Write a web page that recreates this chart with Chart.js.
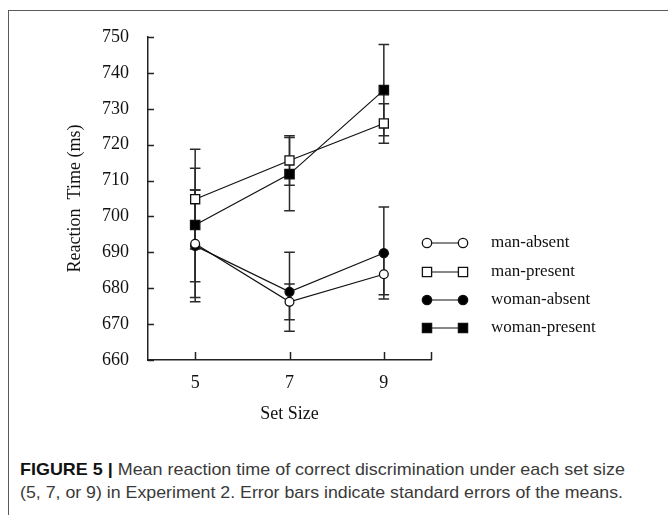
<!DOCTYPE html>
<html>
<head>
<meta charset="utf-8">
<script src="https://cdn.jsdelivr.net/npm/chart.js@4.4.1/dist/chart.umd.min.js"></script>
<style>
  html, body { margin: 0; padding: 0; background: #fff; }
  body { width: 668px; height: 515px; position: relative; overflow: hidden; }
  #frame { position: absolute; left: 8px; top: 10px; width: 700px; height: 600px;
           border-left: 1.5px solid #5a5a5a; border-top: 1.5px solid #5a5a5a; }
  #wrap { position: absolute; left: 0; top: 0; width: 668px; height: 430px; }
  .cap { position: absolute; left: 20px; font-family: "Liberation Sans", Arial, sans-serif;
         font-size: 17px; color: #3a3a3a; white-space: nowrap; transform-origin: 0 0; }
  .cap b { color: #111; }
</style>
</head>
<body>
<div id="frame"></div>
<div id="wrap"><canvas id="c"></canvas></div>
<div class="cap" id="cap1" style="top:460px"><b>FIGURE 5 |</b> Mean reaction time of correct discrimination under each set size</div>
<div class="cap" id="cap2" style="top:483px">(5, 7, or 9) in Experiment 2. Error bars indicate standard errors of the means.</div>
<script>
const setSizes = [5, 7, 9];
const yTicks = [660, 670, 680, 690, 700, 710, 720, 730, 740, 750];
const seriesNames = ["man-absent", "man-present", "woman-absent", "woman-present"];
const manAbsent = [692.4, 676.2, 683.9];
const manAbsentErr = [15.0, 5.0, 5.7];
const manPresent = [704.8, 715.6, 725.9];
const manPresentErr = [13.9, 6.9, 5.5];
const womanAbsent = [691.8, 679.0, 689.8];
const womanAbsentErr = [15.6, 11.0, 12.8];
const womanPresent = [697.6, 711.8, 735.2];
const womanPresentErr = [15.8, 10.2, 12.7];

const SERIF = "'Liberation Serif', 'Times New Roman', serif";

function mk(name, vals, errs, style, filled, radius) {
  return {
    label: name,
    data: setSizes.map((x, i) => ({ x: x, y: vals[i] })),
    errs: errs,
    showLine: true,
    borderColor: '#111',
    borderWidth: 1.2,
    pointStyle: style,
    pointRadius: radius,
    pointHoverRadius: radius,
    pointBackgroundColor: filled ? '#000' : '#fff',
    pointBorderColor: '#111',
    pointBorderWidth: 1.3,
    fill: false,
    tension: 0
  };
}

const datasets = [
  mk(seriesNames[0], manAbsent, manAbsentErr, 'circle', false, 4.4),
  mk(seriesNames[1], manPresent, manPresentErr, 'rect', false, 6.4),
  mk(seriesNames[2], womanAbsent, womanAbsentErr, 'circle', true, 4.5),
  mk(seriesNames[3], womanPresent, womanPresentErr, 'rect', true, 6.6)
];

const errorBars = {
  id: 'errorBars',
  beforeDatasetsDraw(chart) {
    const { ctx, scales: { x, y } } = chart;
    ctx.save();
    ctx.strokeStyle = '#2a2a2a';
    ctx.lineWidth = 1.5;
    chart.data.datasets.forEach(ds => {
      ds.data.forEach((p, i) => {
        const px = x.getPixelForValue(p.x);
        const top = y.getPixelForValue(p.y + ds.errs[i]);
        const bot = y.getPixelForValue(p.y - ds.errs[i]);
        ctx.beginPath();
        ctx.moveTo(px, top); ctx.lineTo(px, bot);
        ctx.moveTo(px - 5.3, top); ctx.lineTo(px + 5.3, top);
        ctx.moveTo(px - 5.3, bot); ctx.lineTo(px + 5.3, bot);
        ctx.stroke();
      });
    });
    ctx.restore();
  }
};

const innerTicks = {
  id: 'innerTicks',
  afterDraw(chart) {
    const { ctx, scales: { x, y }, chartArea } = chart;
    ctx.save();
    ctx.strokeStyle = '#222';
    ctx.lineWidth = 1.5;
    ctx.beginPath();
    yTicks.forEach(v => {
      const py = Math.round(y.getPixelForValue(v)) + 0.5;
      ctx.moveTo(chartArea.left, py); ctx.lineTo(chartArea.left + 6, py);
    });
    setSizes.concat([x.max]).forEach(v => {
      const px = Math.round(x.getPixelForValue(v)) + 0.5;
      ctx.moveTo(px, chartArea.bottom); ctx.lineTo(px, chartArea.bottom - 8);
    });
    ctx.stroke();
    ctx.restore();
  }
};

const legendRows = {
  id: 'legendRows',
  afterDraw(chart) {
    const { ctx } = chart;
    const rowsY = [243, 272, 300, 328];
    const x1 = 427, x2 = 463, tx = 491;
    chart.data.datasets.forEach((ds, i) => {
      const yy = rowsY[i];
      ctx.save();
      ctx.strokeStyle = '#111';
      ctx.lineWidth = 1.2;
      ctx.beginPath(); ctx.moveTo(x1, yy); ctx.lineTo(x2, yy); ctx.stroke();
      ctx.fillStyle = ds.pointBackgroundColor;
      ctx.lineWidth = 1.3;
      [x1, x2].forEach(px => {
        ctx.beginPath();
        if (ds.pointStyle === 'circle') {
          ctx.arc(px, yy, 4.7, 0, Math.PI * 2);
        } else {
          ctx.rect(px - 4.6, yy - 4.6, 9.2, 9.2);
        }
        ctx.fill(); ctx.stroke();
      });
      ctx.fillStyle = '#111';
      ctx.font = '17px ' + SERIF;
      ctx.textBaseline = 'middle';
      ctx.textAlign = 'left';
      ctx.fillText(ds.label, tx, yy);
      ctx.restore();
    });
  }
};

new Chart(document.getElementById('c'), {
  type: 'scatter',
  data: { datasets: datasets },
  options: {
    responsive: true,
    maintainAspectRatio: false,
    animation: false,
    events: [],
    layout: { padding: { top: 37, right: 237, left: 0, bottom: 0 } },
    plugins: { legend: { display: false }, tooltip: { enabled: false } },
    scales: {
      x: {
        type: 'linear', min: 4, max: 10,
        afterBuildTicks: s => { s.ticks = setSizes.map(v => ({ value: v })); },
        afterFit: s => { s.height = 70; },
        grid: { display: false, drawTicks: false },
        border: { display: true, color: '#222', width: 1.5 },
        ticks: { padding: 12, color: '#111', font: { family: SERIF, size: 18 }, maxRotation: 0 },
        title: { display: true, text: 'Set Size', color: '#111', font: { family: SERIF, size: 18 }, padding: { top: 0, bottom: 5 } }
      },
      y: {
        type: 'linear', min: 660, max: 750,
        afterBuildTicks: s => { s.ticks = yTicks.map(v => ({ value: v })); },
        afterFit: s => { s.width = 148; },
        grid: { display: false, drawTicks: false },
        border: { display: true, color: '#222', width: 1.5 },
        ticks: { padding: 19, color: '#111', font: { family: SERIF, size: 18 } },
        title: { display: true, text: 'Reaction  Time (ms)', color: '#111', font: { family: SERIF, size: 18 }, padding: { top: 64, bottom: 0 } }
      }
    }
  },
  plugins: [errorBars, innerTicks, legendRows]
});

function fitCap(id, w) {
  const el = document.getElementById(id);
  const cur = el.getBoundingClientRect().width;
  el.style.transform = 'scaleX(' + (w / cur) + ')';
}
fitCap('cap1', 605);
fitCap('cap2', 603);
</script>
</body>
</html>
